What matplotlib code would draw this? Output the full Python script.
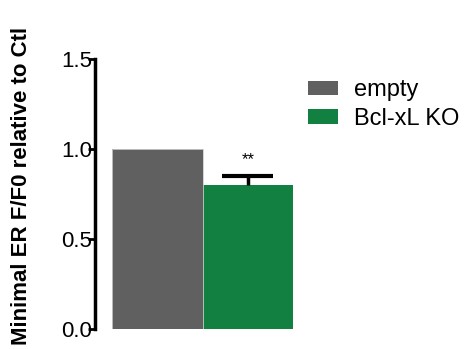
import matplotlib.pyplot as plt
from matplotlib.patches import Patch

plt.rcParams['font.family'] = ['Liberation Sans', 'DejaVu Sans']

groups = ["empty", "Bcl-xL KO"]
values = [1.0, 0.80]
errors = [0.0, 0.05]
colors = ["#606060", "#128040"]
yticks = [0.0, 0.5, 1.0, 1.5]

fig = plt.figure(figsize=(4.70, 3.49), dpi=100)
ax = fig.add_axes([95 / 470, 20 / 349, 205 / 470, 270 / 349])

xpos = [0, 1]
ax.bar(xpos, values, width=1.0, color=colors, edgecolor="none", zorder=2)
ax.bar([0], [values[0]], width=1.0, color="none", edgecolor="#cccccc", linewidth=0.6, zorder=3)

# upper half of the error bar only
top = values[1] + errors[1]
ax.vlines(xpos[1], values[1], top, color="black", linewidth=2.5, zorder=3)
ax.hlines(top, xpos[1] - 0.28, xpos[1] + 0.28, color="black", linewidth=3, zorder=3)
ax.text(xpos[1], top + 0.05, "**", ha="center", va="bottom", fontsize=12)

ax.set_xlim(-0.5 - 17 / 90.5, 1.5 + 7 / 90.5)
ax.set_ylim(0, 1.5)
ax.set_yticks(yticks)
ax.set_yticklabels([f"{t:.1f}" for t in yticks], fontsize=16)
ax.set_xticks([])
for s in ["top", "right", "bottom"]:
    ax.spines[s].set_visible(False)
ax.spines["left"].set_linewidth(2.5)
ax.tick_params(axis="y", direction="out", length=5, width=2, pad=-3)
ax.set_ylabel("Minimal ER F/F0 relative to Ctl", fontsize=16, fontweight="bold")
ax.yaxis.set_label_coords(-0.305, 0.53)

handles = [Patch(facecolor=c, edgecolor="none") for c in colors]
fig.legend(handles, groups, loc="upper left", bbox_to_anchor=(287 / 470, 1 - 58 / 349),
           frameon=False, fontsize=17, handlelength=1.25, handleheight=0.55,
           handletextpad=0.68, labelspacing=0.28)

fig.savefig("out.png", dpi=100)
